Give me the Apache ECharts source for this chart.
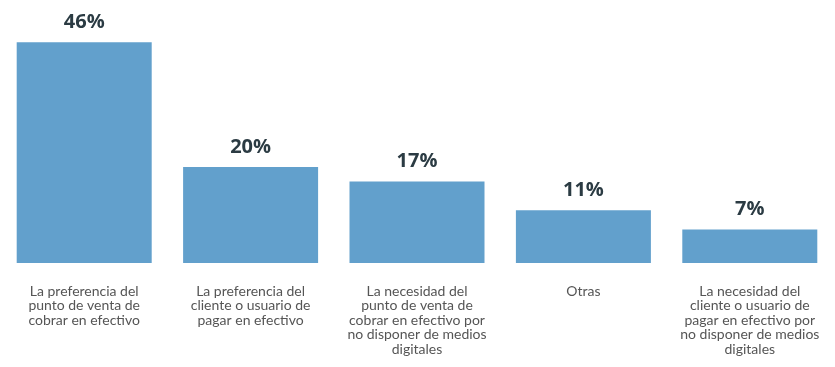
<!DOCTYPE html>
<html>
<head>
<meta charset="utf-8">
<script src="https://cdn.jsdelivr.net/npm/echarts@6/dist/echarts.min.js"></script>
<style>
  html, body { margin: 0; padding: 0; background: #ffffff; }
  #chart { width: 835px; height: 367px; }
</style>
</head>
<body>
<div id="chart"></div>
<script>
// Reasons for cash use (share of responses, %)
const categories = [
  'La preferencia del\npunto de venta de\ncobrar en efectivo',
  'La preferencia del\ncliente o usuario de\npagar en efectivo',
  'La necesidad del\npunto de venta de\ncobrar en efectivo por\nno disponer de medios\ndigitales',
  'Otras',
  'La necesidad del\ncliente o usuario de\npagar en efectivo por\nno disponer de medios\ndigitales'
];
const values = [46, 20, 17, 11, 7];

const chart = echarts.init(document.getElementById('chart'), null, { renderer: 'canvas' });

chart.setOption({
  backgroundColor: '#ffffff',
  animation: false,
  grid: { left: 1, right: 2, top: 23, bottom: 104, containLabel: false },
  xAxis: {
    type: 'category',
    data: categories,
    axisLine: { show: false },
    axisTick: { show: false },
    axisLabel: {
      interval: 0,
      margin: 21,
      color: '#555555',
      fontFamily: 'Lato',
      fontSize: 14,
      lineHeight: 14.5,
      verticalAlign: 'top'
    }
  },
  yAxis: {
    type: 'value',
    min: 0,
    max: 50,
    show: false,
    splitLine: { show: false }
  },
  series: [{
    type: 'bar',
    data: values,
    barWidth: 135,
    itemStyle: { color: '#62a0cc' },
    label: {
      show: true,
      position: 'top',
      distance: 10,
      formatter: p => p.value + '%',
      color: '#2b3b43',
      fontFamily: 'Open Sans',
      fontWeight: 'bold',
      fontSize: 20
    }
  }]
});
</script>
</body>
</html>
